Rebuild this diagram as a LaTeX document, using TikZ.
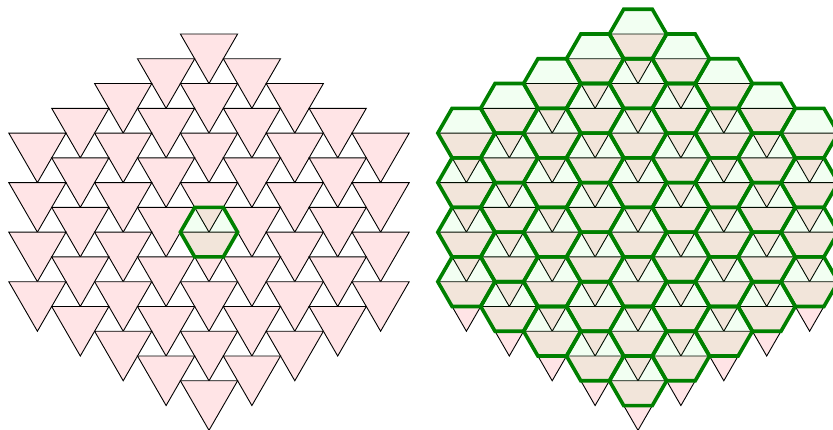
\documentclass[tikz,border=0pt]{standalone}
\definecolor{tripink}{RGB}{255,228,230}
\definecolor{hexgreen}{RGB}{0,128,0}
\definecolor{hexfill}{RGB}{0,255,0}
\tikzset{
  tristyle/.style={fill=tripink, draw=black, line width=0.9pt, line join=miter},
  hexfillstyle/.style={fill=hexfill, fill opacity=0.05},
  hexdrawstyle/.style={draw=hexgreen, line width=3.6pt, line join=miter},
}
% triangle whose top edge midpoint is at (#1,#2)
\newcommand{\mytri}[2]{%
  \path[tristyle] (#1,#2) ++(-28.6,0) -- ++(57.2,0) -- ++(-28.6,49.54) -- cycle;}
\newcommand{\myhexpath}[3]{%
  \path[#3] (#1,#2) ++(-28.6,0) -- ++(14.3,-24.77) -- ++(28.6,0) -- ++(14.3,24.77)
     -- ++(-14.3,24.77) -- ++(-28.6,0) -- cycle;}
\begin{document}
\begin{tikzpicture}[x=1pt,y=-1pt]
\useasboundingbox (0,0) rectangle (833,429);
% ---------- triangles of both figures ----------
\foreach \k in {0,...,14}{
  \foreach \j in {-4,...,4}{
    \pgfmathtruncatemacro{\ok}{(abs(\j)<=min(\k,14-\k,4)) && (mod(\k+\j+8,2)==0)}
    \ifnum\ok=1
      \pgfmathsetmacro{\cx}{209+\j*42.9}
      \pgfmathsetmacro{\cy}{34+\k*24.77}
      \mytri{\cx}{\cy}
      \pgfmathsetmacro{\cxr}{\cx+429}
      \mytri{\cxr}{\cy}
    \fi
  }
}
% ---------- left figure: single hexagon ----------
\myhexpath{209}{232.16}{hexfillstyle}
\myhexpath{209}{232.16}{hexdrawstyle}
% ---------- right figure: hexagon tiling ----------
\foreach \k in {0,...,14}{
  \foreach \j in {-4,...,4}{
    \pgfmathtruncatemacro{\ok}{(abs(\j)<=min(\k,14-\k,4)) && (mod(\k+\j+8,2)==0)}
    \ifnum\ok=1
      \pgfmathsetmacro{\cx}{638+\j*42.9}
      \pgfmathsetmacro{\cy}{34+\k*24.77}
      \myhexpath{\cx}{\cy}{hexfillstyle}
    \fi
  }
}
\foreach \k in {0,...,14}{
  \foreach \j in {-4,...,4}{
    \pgfmathtruncatemacro{\ok}{(abs(\j)<=min(\k,14-\k,4)) && (mod(\k+\j+8,2)==0)}
    \ifnum\ok=1
      \pgfmathsetmacro{\cx}{638+\j*42.9}
      \pgfmathsetmacro{\cy}{34+\k*24.77}
      \myhexpath{\cx}{\cy}{hexdrawstyle}
    \fi
  }
}
\end{tikzpicture}
\end{document}
